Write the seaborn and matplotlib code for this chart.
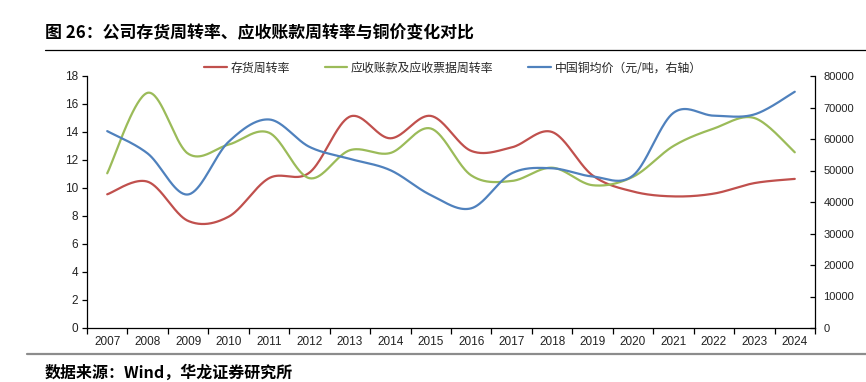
import numpy as np
import pandas as pd
import matplotlib
matplotlib.use("Agg")
import matplotlib.pyplot as plt
import seaborn as sns
from matplotlib.lines import Line2D
from matplotlib.ticker import FixedLocator, NullFormatter

# ---------------- data ----------------
years = [str(y) for y in range(2007, 2025)]
inventory_turnover = [9.55, 10.45, 7.65, 7.95, 10.7, 11.1, 15.1, 13.55, 15.15,
                      12.65, 12.9, 14.0, 10.9, 9.75, 9.4, 9.6, 10.35, 10.65]
receivable_turnover = [11.05, 16.8, 12.45, 13.1, 13.95, 10.7, 12.7, 12.5, 14.25,
                       10.9, 10.5, 11.45, 10.2, 10.8, 13.0, 14.25, 15.0, 12.55]
copper_price = [62500, 55400, 42400, 59100, 66200, 57500, 53700, 50100, 42200,
                38000, 49100, 50700, 48100, 48400, 68300, 67400, 67800, 75000]
left_ticks = [0, 2, 4, 6, 8, 10, 12, 14, 16, 18]
right_ticks = [0, 10000, 20000, 30000, 40000, 50000, 60000, 70000, 80000]
labels = ["存货周转率", "应收账款及应收票据周转率", "中国铜均价（元/吨，右轴）"]
title = "图 26：公司存货周转率、应收账款周转率与铜价变化对比"
source = "数据来源：Wind，华龙证券研究所"

RED, GREEN, BLUE = "#C0504D", "#9BBB59", "#4F81BD"

sns.set_theme(style="white")
plt.rcParams["font.family"] = ["Liberation Sans", "Noto Sans CJK SC", "DejaVu Sans"]
CJK = ["Noto Sans CJK SC", "DejaVu Sans"]


def smooth(values, n=40):
    """Catmull-Rom style bezier smoothing (like Excel smoothed lines)."""
    y = np.asarray(values, float)
    x = np.arange(len(y), dtype=float)
    P = np.column_stack([x, y])
    out = []
    t = np.linspace(0, 1, n)[:, None]
    for i in range(len(P) - 1):
        p0 = P[i - 1] if i > 0 else P[i]
        p1, p2 = P[i], P[i + 1]
        p3 = P[i + 2] if i + 2 < len(P) else P[i + 1]
        c1 = p1 + (p2 - p0) / 6.0
        c2 = p2 - (p3 - p1) / 6.0
        B = ((1 - t) ** 3) * p1 + 3 * ((1 - t) ** 2) * t * c1 + 3 * (1 - t) * t ** 2 * c2 + t ** 3 * p2
        out.append(B if i == 0 else B[1:])
    B = np.vstack(out)
    return pd.DataFrame({"x": B[:, 0], "y": B[:, 1]})


fig = plt.figure(figsize=(8.66, 3.82), dpi=100)
ax = fig.add_axes([87 / 866, 1 - 328 / 382, (815 - 87) / 866, (328 - 76) / 382])
ax2 = ax.twinx()

lw = 1.6
sns.lineplot(data=smooth(inventory_turnover), x="x", y="y", sort=False, estimator=None,
             ax=ax, color=RED, linewidth=lw)
sns.lineplot(data=smooth(receivable_turnover), x="x", y="y", sort=False, estimator=None,
             ax=ax, color=GREEN, linewidth=lw)
sns.lineplot(data=smooth(copper_price), x="x", y="y", sort=False, estimator=None,
             ax=ax2, color=BLUE, linewidth=lw)

n = len(years)
ax.set_xlim(-0.5, n - 0.5)
ax.set_ylim(0, 18)
ax2.set_ylim(0, 80000)
ax.set_xlabel("")
ax.set_ylabel("")
ax2.set_xlabel("")
ax2.set_ylabel("")

ax.set_xticks(range(n))
ax.set_xticklabels(years, fontsize=8.5, color="#222222")
ax.xaxis.set_minor_locator(FixedLocator(np.arange(-0.5, n, 1.0)))
ax.xaxis.set_minor_formatter(NullFormatter())
ax.tick_params(axis="x", which="major", length=0, pad=6)
ax.tick_params(axis="x", which="minor", length=4, width=0.9, color="black", direction="out", bottom=True)

ax.set_yticks(left_ticks)
ax.set_yticklabels([str(v) for v in left_ticks], fontsize=8.5, color="#222222")
ax.tick_params(axis="y", which="major", length=3.5, width=0.9, color="black", direction="out", left=True, pad=3)

ax2.set_yticks(right_ticks)
ax2.set_yticklabels([str(v) for v in right_ticks], fontsize=8, color="#222222")
ax2.tick_params(axis="y", which="major", length=3.5, width=0.9, color="black", direction="in", right=True, pad=6)

for a in (ax, ax2):
    a.grid(False)
    a.spines["top"].set_visible(False)
    for s in ("left", "right", "bottom"):
        a.spines[s].set_color("black")
        a.spines[s].set_linewidth(0.9)
ax.spines["right"].set_visible(False)
ax2.spines["left"].set_visible(False)
ax2.spines["bottom"].set_visible(False)

handles = [Line2D([], [], color=c, linewidth=lw) for c in (RED, GREEN, BLUE)]
fig.legend(handles, labels, loc="center", bbox_to_anchor=(453 / 866, 1 - 68 / 382), ncol=3,
           frameon=False, handlelength=1.9, handletextpad=0.3, columnspacing=2.9,
           prop={"family": CJK, "size": 8.6})

fig.text(45 / 866, 1 - 33 / 382, title, fontsize=12.2, fontweight="bold", family=CJK,
         ha="left", va="center", color="black")
fig.add_artist(Line2D([45 / 866, 1.0], [1 - 50 / 382] * 2, color="black", linewidth=0.9,
                      transform=fig.transFigure))
fig.add_artist(Line2D([27 / 866, 1.0], [1 - 354 / 382] * 2, color="#8c8c8c", linewidth=1.6,
                      transform=fig.transFigure))
fig.text(45 / 866, 1 - 373 / 382, source, fontsize=11.5, fontweight="bold", family=CJK,
         ha="left", va="center", color="black")

fig.savefig("out.png", dpi=100)
